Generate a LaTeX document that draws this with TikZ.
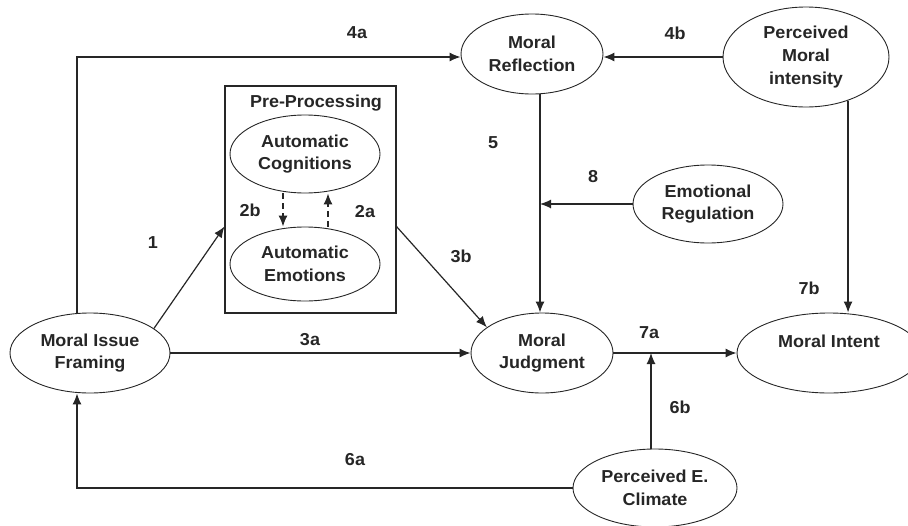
\documentclass[tikz,border=0pt]{standalone}
\usepackage{fontspec}
\setmainfont{Liberation Sans}[FakeStretch=1.04]
\usetikzlibrary{shapes.geometric,arrows.meta}
\begin{document}
\begin{tikzpicture}[x=1pt,y=-1pt,
  every node/.style={font=\bfseries\fontsize{17.3}{22.7}\selectfont, text=black!85},
  ell/.style={draw=black!85, ellipse, inner sep=0pt, align=center, line width=0.9pt},
  conn/.style={draw=black!85, line width=1.2pt, -{Latex[length=11pt,width=9pt]}},
  dconn/.style={conn, dash pattern=on 6pt off 4pt}]
\useasboundingbox (0,0) rectangle (908,525);
% box
\node[draw=black!85, line width=1.1pt, minimum width=171pt, minimum height=227pt, inner sep=0pt] (pp) at (310.5,199.5) {};
\node (ppl) at (316,103) {Pre-Processing};
% ellipses
\node[ell, minimum width=142pt, minimum height=80pt] (mr) at (532,54) {Moral\\Reflection};
\node[ell, minimum width=166pt, minimum height=100pt] (pmi) at (806,57) {Perceived\\Moral\\intensity};
\node[ell, minimum width=150pt, minimum height=78pt] (er) at (708,204) {Emotional\\Regulation};
\node[ell, minimum width=150pt, minimum height=78pt] (ac) at (305,154) {Automatic\\Cognitions};
\node[ell, minimum width=150pt, minimum height=74pt] (ae) at (305,264) {Automatic\\Emotions};
\node[ell, minimum width=160pt, minimum height=80pt] (mif) at (90,353) {Moral Issue\\Framing};
\node[ell, minimum width=142pt, minimum height=80pt] (mj) at (542,353) {Moral\\Judgment};
\node[ell, minimum width=184pt, minimum height=80pt] (mi) at (829,353) {Moral Intent\\\mbox{}};
\node[ell, minimum width=164pt, minimum height=78pt] (pec) at (655,488) {Perceived E.\\Climate};
% helper coordinates
\coordinate (v4) at (77,0);
\coordinate (v5) at (540,0);
\coordinate (v6) at (651,0);
\coordinate (h4) at (0,57);
% connectors
\draw[conn] (v4 |- mif.north) -- (v4 |- h4) -- (h4 -| mr.west);
\draw[conn] (pmi.west) -- (pmi.west -| mr.east);
\draw[conn] (v5 |- mr.south) -- (v5 |- mj.north);
\draw[conn] (er.west) -- (er.west -| v5);
\draw[conn] (pmi.-46) -- (pmi.-46 |- mi.north);
\draw[conn] (mif.21.6) -- (pp.west |- ae.north);
\draw[conn] (pp.east |- ae.north) -- (mj.155);
\draw[conn] (mif.east) -- (mif.east -| mj.west);
\draw[conn] (mj.east) -- (mj.east -| mi.west);
\draw[conn] (v6 |- pec.north) -- (v6 |- mj.east);
\draw[conn] (pec.west) -- (v4 |- pec.west) -- (v4 |- mif.south);
\draw[dconn] ([xshift=-22pt]ac.south) -- ([xshift=-22pt]ae.north);
\draw[dconn] ([xshift=23pt]ae.north) -- ([xshift=23pt]ac.south);
% labels
\node (l4a) at (357,33) {4a};
\node (l4b) at (675,33) {4b};
\node (l2b) at (250,210) {2b};
\node (l2a) at (365,212) {2a};
\node (l1) at (153,243) {1};
\node (l5) at (493,143) {5};
\node (l8) at (593,177) {8};
\node (l3b) at (461,256) {3b};
\node (l3a) at (310,340) {3a};
\node (l7a) at (649,333) {7a};
\node (l7b) at (809,288) {7b};
\node (l6b) at (680,407) {6b};
\node (l6a) at (355,460) {6a};
\end{tikzpicture}
\end{document}
